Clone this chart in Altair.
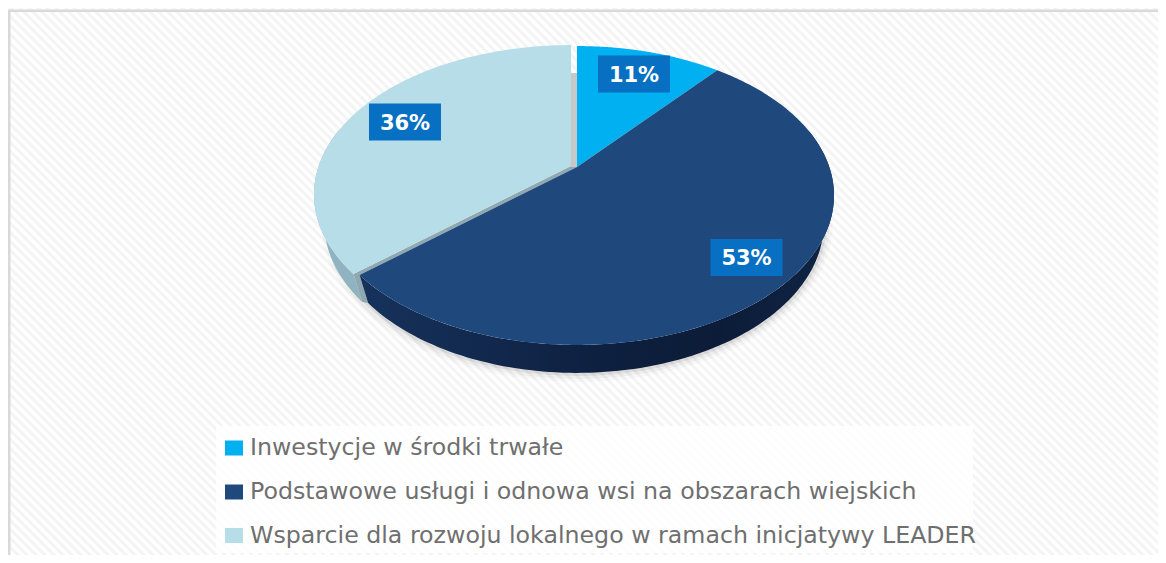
import math
import altair as alt
import pandas as pd

# --- chart data ---
categories = ["Inwestycje w środki trwałe",
              "Podstawowe usługi i odnowa wsi na obszarach wiejskich",
              "Wsparcie dla rozwoju lokalnego w ramach inicjatywy LEADER"]
values = [11, 52.6, 36.4]
colors = ["#00b0f0", "#1f497d", "#b7dee8"]

# --- layout (page pixels) ---
W, H = 1150, 547
CX, CY = 577, 167          # pie centre as seen in perspective
A, B, K = 144, 252.3, 0.1906
DEPTH = 28
TAPER = 0.96               # the lower rim converges in perspective
LIGHT_SHIFT = (-6, -1)
label_centres = [(634, 74), (746.5, 257.5), (405, 122)]
label_box = (36, 18.5)
legend_y = [448, 492, 535.5]

sx = alt.Scale(domain=[8, 8 + W], nice=False, zero=False)
sy = alt.Scale(domain=[8 + H, 8], nice=False, zero=False)
X = alt.X("x:Q", scale=sx, axis=None)
Y = alt.Y("y:Q", scale=sy, axis=None)


def pt(theta_deg, dx=0, dy=0):
    t = math.radians(theta_deg)
    u, v = math.sin(t), -math.cos(t)
    d = 1 - K * v
    return (CX + B * u / d + dx, CY + A * v / d + dy)


def arc(a, b, dx=0, dy=0, n=120):
    return [pt(a + (b - a) * i / n, dx, dy) for i in range(n + 1)]


def lower(points, dx=0):
    return [(CX + dx + (p[0] - CX - dx) * TAPER, p[1] + DEPTH) for p in points]


def poly(points, fill, **kw):
    df = pd.DataFrame({"x": [p[0] for p in points], "y": [p[1] for p in points],
                       "i": range(len(points))})
    return alt.Chart(df).mark_line(fill=fill, strokeWidth=0, interpolate="linear", clip=True, **kw).encode(
        x=X, y=Y, order=alt.Order("i:Q"))


def outline(points, width, opacity):
    df = pd.DataFrame({"x": [p[0] for p in points], "y": [p[1] for p in points],
                       "i": range(len(points))})
    return alt.Chart(df).mark_line(color="#000000", strokeWidth=width, opacity=opacity).encode(
        x=X, y=Y, order=alt.Order("i:Q"))


def rect(x, x2, y, y2, color, opacity=1.0):
    df = pd.DataFrame({"x": [x], "x2": [x2], "y": [y], "y2": [y2]})
    return alt.Chart(df).mark_rect(color=color, opacity=opacity).encode(
        x=X, x2="x2:Q", y=Y, y2="y2:Q")


edges = [0]
for v in values:
    edges.append(edges[-1] + v * 3.6)
lx, ly = LIGHT_SHIFT

layers = []

# hatched panel
hatch = pd.DataFrame([{"x": s, "x2": s + 600, "y": 0, "y2": 600} for s in range(-600, 1200, 9)])
layers.append(alt.Chart(hatch).mark_rule(color="#f4f4f4", strokeWidth=3, clip=True).encode(
    x=X, x2="x2:Q", y=Y, y2="y2:Q"))
layers.append(rect(8, 10.5, 10, 8 + H, "#d9d9d9"))
layers.append(rect(8, 8 + W, 9.5, 12, "#d9d9d9"))

# legend backing
layers.append(rect(216, 973, 426, 553, "#ffffff", 0.8))

# soft shadow
shadow = lower(arc(70, 300))
for w, o in [(18, 0.025), (12, 0.04), (6, 0.07)]:
    layers.append(outline(shadow, w, o))

# side faces
light_top = arc(edges[2], 285, lx, ly)
layers.append(poly(light_top + lower(light_top, lx)[::-1], "#8fb3c0"))
apex_l = (CX + lx, CY + ly)
corner_l = pt(edges[2], lx, ly)
corner_b = pt(edges[2])
layers.append(poly([apex_l, corner_l] + lower([corner_l], lx) + lower([corner_b]) + [corner_b, (CX, CY)], "#8fa9b0"))
blue_top = arc(75, edges[2])
blue_grad = alt.Gradient(gradient="linear", x1=0, x2=1, y1=0, y2=0, stops=[
    alt.GradientStop(color="#16325c", offset=0),
    alt.GradientStop(color="#0e2040", offset=0.5),
    alt.GradientStop(color="#0c1c38", offset=0.75),
    alt.GradientStop(color="#0f2444", offset=1)])
layers.append(poly(blue_top + lower(blue_top)[::-1], blue_grad))
layers.append(poly([(CX + lx, 73), (CX, 73), (CX, CY), (CX + lx, CY)], "#c8c8c8"))

# slices
layers.append(poly([(CX, CY)] + arc(edges[0], edges[1]), colors[0]))
layers.append(poly([(CX, CY)] + arc(edges[1], edges[2], n=240), colors[1]))
layers.append(poly([apex_l] + arc(edges[2], edges[3], lx, ly), colors[2]))

# value labels
lab = pd.DataFrame({
    "x": [c[0] for c in label_centres], "y": [c[1] for c in label_centres],
    "x0": [c[0] - label_box[0] for c in label_centres], "x1": [c[0] + label_box[0] for c in label_centres],
    "y0": [c[1] - label_box[1] for c in label_centres], "y1": [c[1] + label_box[1] for c in label_centres],
    "t": [f"{round(v)}%" for v in values]})
layers.append(alt.Chart(lab).mark_rect(color="#0870c2").encode(
    x=alt.X("x0:Q", scale=sx, axis=None), x2="x1:Q", y=alt.Y("y0:Q", scale=sy, axis=None), y2="y1:Q"))
layers.append(alt.Chart(lab).mark_text(color="#ffffff", fontSize=21, fontWeight="bold", dy=1.5,
                                       font="DejaVu Sans", align="center", baseline="middle").encode(
    x=X, y=Y, text="t:N"))

# legend
leg = pd.DataFrame({"cat": categories, "y": legend_y,
                    "x0": [225] * 3, "x1": [243] * 3,
                    "y0": [y - 7.5 for y in legend_y], "y1": [y + 7.5 for y in legend_y],
                    "x": [250] * 3})
colour = alt.Color("cat:N", scale=alt.Scale(domain=categories, range=colors), legend=None)
layers.append(alt.Chart(leg).mark_rect().encode(
    x=alt.X("x0:Q", scale=sx, axis=None), x2="x1:Q", y=alt.Y("y0:Q", scale=sy, axis=None), y2="y1:Q",
    color=colour))
layers.append(alt.Chart(leg).mark_text(color="#6f6f6f", fontSize=23.7, font="DejaVu Sans",
                                       align="left", baseline="middle").encode(
    x=X, y=Y, text="cat:N"))

chart = alt.layer(*layers).properties(
    width=W, height=H, padding=0, background="#ffffff",
    autosize=alt.AutoSizeParams(type="none")
).configure_view(stroke=None)

chart.save("out.html", embed_options={"renderer": "svg", "actions": False})
